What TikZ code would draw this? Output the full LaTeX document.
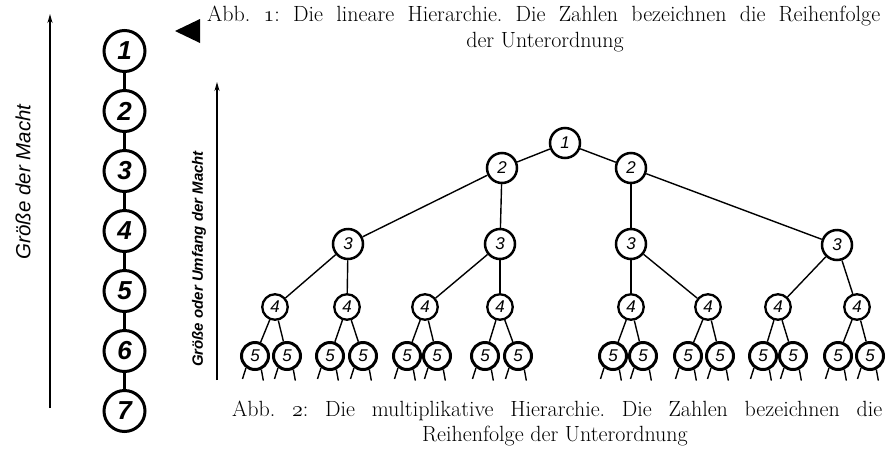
\documentclass[tikz,border=0pt]{standalone}
\usepackage{fix-cm}
\usepackage{fontspec}
\newfontfamily\labfont{Liberation Sans}
\usetikzlibrary{arrows.meta}
\newcommand\osnum[1]{{\usefont{OML}{cmm}{m}{it}#1}}
\tikzset{
  lin/.style={circle, draw, line width=3pt, minimum size=41pt, inner sep=0pt,
    font=\labfont\bfseries\itshape\fontsize{26}{26}\selectfont},
  tn/.style={circle, draw, line width=2.5pt, minimum size=30pt, inner sep=0pt,
    font=\labfont\itshape\fontsize{17}{17}\selectfont},
  tf/.style={tn, line width=2.3pt, minimum size=25.5pt},
  tv/.style={tn, line width=3pt, minimum size=27pt},
  edge/.style={line width=1.4pt},
  chain/.style={line width=3pt},
  arr/.style={line width=1.5pt, -{Stealth[length=9pt,width=5pt]}},
  captxt/.style={inner sep=0pt, font=\frenchspacing\fontsize{22}{26}\selectfont},
}
\begin{document}
\begin{tikzpicture}[x=1pt,y=-1pt]
\useasboundingbox (0,0) rectangle (892,448);
% linear hierarchy
\foreach \i in {1,...,7} {
  \node[lin] (l\i) at (124.5,{51+60*(\i-1)}) {\i};
}
\foreach \i/\j in {1/2,2/3,3/4,4/5,5/6,6/7} {
  \draw[chain] (l\i) -- (l\j);
}
\coordinate (a1s) at (50,408);
\coordinate (a1e) at (50,14);
\draw[arr] (a1s) -- (a1e);
\node[rotate=90, inner sep=0pt, font=\labfont\itshape\fontsize{20.5}{20.5}\selectfont] (lab1) at (23,182) {Größe der Macht};
\fill (175,31) -- (200,19) -- (200,43) -- cycle;
% captions
\node[captxt, anchor=base west] (c1a) at (207,21) {\makebox[673pt][s]{Abb. \osnum{1}: Die lineare Hierarchie. Die Zahlen bezeichnen die Reihenfolge}};
\node[captxt, anchor=base] (c1b) at (545,47) {der Unterordnung};
\node[captxt, anchor=base west] (c2a) at (232,416) {\makebox[650pt][s]{Abb. \osnum{2}: Die multiplikative Hierarchie. Die Zahlen bezeichnen die}};
\node[captxt, anchor=base] (c2b) at (555,441) {Reihenfolge der Unterordnung};
% second arrow
\coordinate (a2s) at (217,380);
\coordinate (a2e) at (217,82);
\draw[arr] (a2s) -- (a2e);
\node[rotate=90, inner sep=0pt, font=\labfont\bfseries\itshape\fontsize{15}{15}\selectfont] (lab2) at (199,259) {Größe oder Umfang der Macht};
% tree
\node[tn] (t1) at (565,143) {1};
\node[tn] (t2a) at (502,168) {2};
\node[tn] (t2b) at (631,168) {2};
\node[tn] (t3a) at (348,244) {3};
\node[tn] (t3b) at (500,244) {3};
\node[tn] (t3c) at (631,244) {3};
\node[tn] (t3d) at (837,245) {3};
\foreach \n/\x in {a/275,b/347,c/425,d/500,e/631,f/708,g/778,h/857} {
  \node[tf] (t4\n) at (\x,307) {4};
}
\foreach \n/\x/\y in {a/255/287,b/330/363,c/407/437,d/485/518,e/613/643,f/688/720,g/763/793,h/838/870} {
  \node[tv] (t5\n1) at (\x,356) {5};
  \node[tv] (t5\n2) at (\y,356) {5};
  \draw[edge] (t4\n) -- (t5\n1);
  \draw[edge] (t4\n) -- (t5\n2);
  \draw[edge] (t5\n1.-127) -- ++(-3.5,11);
  \draw[edge] (t5\n1.-65) -- ++(2,11);
  \draw[edge] (t5\n2.-127) -- ++(-3.5,11);
  \draw[edge] (t5\n2.-65) -- ++(2,11);
}
\draw[edge] (t1) -- (t2a);
\draw[edge] (t1) -- (t2b);
\draw[edge] (t2a) -- (t3a);
\draw[edge] (t2a) -- (t3b);
\draw[edge] (t2b) -- (t3c);
\draw[edge] (t2b) -- (t3d);
\draw[edge] (t3a) -- (t4a);
\draw[edge] (t3a) -- (t4b);
\draw[edge] (t3b) -- (t4c);
\draw[edge] (t3b) -- (t4d);
\draw[edge] (t3c) -- (t4e);
\draw[edge] (t3c) -- (t4f);
\draw[edge] (t3d) -- (t4g);
\draw[edge] (t3d) -- (t4h);
\end{tikzpicture}
\end{document}
